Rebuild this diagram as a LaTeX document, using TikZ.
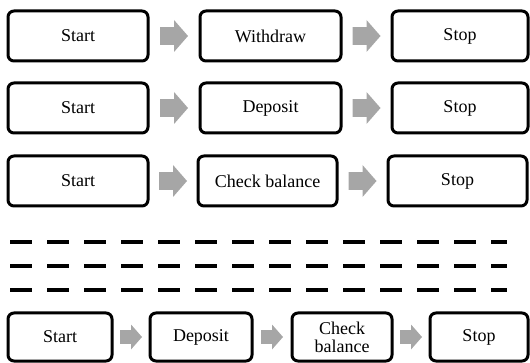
\documentclass[tikz,border=0pt]{standalone}
\usepackage{fontspec}
\setmainfont{Liberation Serif}
\newfontfamily\boxfont{Liberation Serif}
\definecolor{arrowgray}{HTML}{A6A6A6}
\tikzset{
  box/.style={draw=black, line width=3pt, rounded corners=6pt, fill=white,
    inner sep=0pt, align=center, font=\boxfont\fontsize{18}{18}\selectfont},
  bigbox/.style={box, minimum height=50pt},
  smallbox/.style={box, minimum height=48pt, minimum width=100pt},
  sepline/.style={line width=4.5pt, dash pattern=on 22pt off 15pt},
}
\newcommand{\blockarrow}[4]{% from node, to node, half length, half height
  \path (#1.east) -- (#2.west) coordinate[pos=0.5] (tmpm);
  \fill[arrowgray] ([shift={(-#3,-#4*0.55)}]tmpm) -- ([shift={(0,-#4*0.55)}]tmpm)
    -- ([shift={(0,-#4)}]tmpm) -- ([shift={(#3,0)}]tmpm) -- ([shift={(0,#4)}]tmpm)
    -- ([shift={(0,#4*0.55)}]tmpm) -- ([shift={(-#3,#4*0.55)}]tmpm) -- cycle;
}
\begin{document}
\begin{tikzpicture}[x=1pt, y=-1pt]
\useasboundingbox (0,0) rectangle (530,363);
% row 1
\node[bigbox, minimum width=140pt] (a1) at (78,36) {Start};
\node[bigbox, minimum width=141pt] (b1) at (270.5,36) {Withdraw};
\node[bigbox, minimum width=136pt] (c1) at (460,36) {Stop};
\blockarrow{a1}{b1}{14}{16}
\blockarrow{b1}{c1}{14}{16}
% row 2
\node[bigbox, minimum width=140pt] (a2) at (78,108) {Start};
\node[bigbox, minimum width=141pt] (b2) at (270.5,108) {Deposit};
\node[bigbox, minimum width=136pt] (c2) at (460,108) {Stop};
\blockarrow{a2}{b2}{14}{16}
\blockarrow{b2}{c2}{14}{16}
% row 3
\node[bigbox, minimum width=140pt] (a3) at (78,181) {Start};
\node[bigbox, minimum width=139pt] (b3) at (267.5,181) {Check balance};
\node[bigbox, minimum width=139pt] (c3) at (457.5,181) {Stop};
\blockarrow{a3}{b3}{14}{16}
\blockarrow{b3}{c3}{14}{16}
% separators
\coordinate (s1a) at (10,242); \coordinate (s1b) at (507,242);
\coordinate (s2a) at (10,266); \coordinate (s2b) at (507,266);
\coordinate (s3a) at (10,290); \coordinate (s3b) at (507,290);
\draw[sepline] (s1a) -- (s1b);
\draw[sepline] (s2a) -- (s2b);
\draw[sepline] (s3a) -- (s3b);
% bottom row
\node[smallbox, minimum width=104pt] (d1) at (60,337) {Start};
\node[smallbox, minimum width=102pt] (d2) at (201,337) {Deposit};
\node[smallbox] (d3) at (342,337) {Check\\balance};
\node[smallbox, minimum width=98pt] (d4) at (479,337) {Stop};
\blockarrow{d1}{d2}{11}{12.5}
\blockarrow{d2}{d3}{11}{12.5}
\blockarrow{d3}{d4}{11}{12.5}
\end{tikzpicture}
\end{document}
